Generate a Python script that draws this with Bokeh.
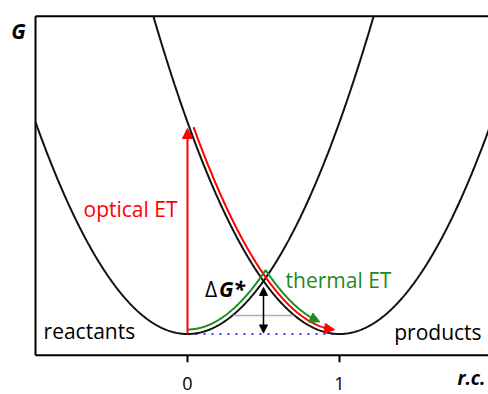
import numpy as np
from bokeh.plotting import figure
from bokeh.models import Arrow, NormalHead, Label, Range1d
from bokeh.core.properties import value
from bokeh.embed import file_html
from bokeh.resources import INLINE

# ---- data ----
reactant_center = 0.0
product_center = 1.0
curvature = 1.0                 # G = curvature * (x - center)^2
x_ticks = [0, 1]
tick_labels = ["0", "1"]
optical_top = 0.97              # top of optical ET arrow (G)
barrier_arrow = [0.005, 0.22]   # ΔG* arrow from/to (G) at x = 0.5
barrier_x = 0.5
gray_level = 0.087
gray_span = [0.30, 0.70]
red_span = [0.015, 0.93]        # along products curve
red_tip = 0.965
green_left = [0.005, 0.62]      # along reactants curve
green_right = [0.40, 0.815]     # along products curve
green_tip = 0.85
blue_span = [0.0, 1.0]
box_left, box_bottom, box_top = -1.0, -0.1, 1.5

FONT = "Open Sans"
W, H = 488, 394
SX = 152.0                      # px per x unit
SY = 339.0 / (box_top - box_bottom)
X0, X1 = -187.0 / SX, (W - 187.0) / SX
Y0, Y1 = -(H - 333.5) / SY, 333.5 / SY
BASE_FIX = 7.0 / SY             # text baseline correction


def G(x, c):
    return curvature * (x - c) ** 2


def offset(xs, gs, d):
    X = xs * SX
    Y = gs * SY
    tx = np.gradient(X)
    ty = np.gradient(Y)
    n = np.hypot(tx, ty)
    nx, ny = -ty / n, tx / n
    return (X + d * nx) / SX, (Y + d * ny) / SY


p = figure(width=W, height=H, x_range=Range1d(X0, X1), y_range=Range1d(Y0, Y1),
           output_backend="svg", toolbar_location=None,
           x_axis_location=None, y_axis_location=None, min_border=0)
p.outline_line_color = None
p.xgrid.visible = False
p.ygrid.visible = False
p.background_fill_color = "white"
p.border_fill_color = "white"

# frame box (left, top, bottom; open to the right)
p.line([box_left, box_left], [box_bottom, box_top], line_color="black", line_width=2)
p.line([box_left, X1 + 0.1], [box_top, box_top], line_color="black", line_width=2)
p.line([box_left, X1 + 0.1], [box_bottom, box_bottom], line_color="black", line_width=2)

# ticks and tick labels
tick_len = 7.0 / SY
p.segment(x0=x_ticks, y0=[box_bottom] * len(x_ticks), x1=x_ticks,
          y1=[box_bottom - tick_len] * len(x_ticks), line_color="black", line_width=2)
p.text(x=x_ticks, y=[-(389.5 - 333.5) / SY + BASE_FIX] * len(x_ticks), text=tick_labels,
       text_font=value(FONT), text_font_size="18px", text_align="center",
       text_baseline="alphabetic", text_color="black")

# blue dotted baseline
p.line(blue_span, [0, 0], line_color="#3a3aff", line_width=2, line_dash="2 6")

# parabolas, clipped at the top of the box
half = np.sqrt(box_top / curvature)
xr = np.linspace(box_left, reactant_center + half, 500)
p.line(xr, G(xr, reactant_center), line_color="#111111", line_width=2)
xp = np.linspace(product_center - half, X1 + 0.05, 500)
p.line(xp, G(xp, product_center), line_color="#111111", line_width=2)

# gray level
p.line(gray_span, [gray_level, gray_level], line_color="#b0b0b0", line_width=1.5)

# optical ET arrow
p.add_layout(Arrow(x_start=reactant_center, y_start=0, x_end=reactant_center, y_end=optical_top,
                   line_color="red", line_width=2,
                   end=NormalHead(size=10, fill_color="red", line_color="red")))

# red path along products curve
t = np.linspace(red_span[0], red_tip, 200)
rx, rg = offset(t, G(t, product_center), 4.0)
cut = t <= red_span[1]
p.line(rx[cut], rg[cut], line_color="red", line_width=2)
i0 = np.searchsorted(t, red_span[1])
p.add_layout(Arrow(x_start=rx[i0], y_start=rg[i0], x_end=rx[-1], y_end=rg[-1],
                   line_color="red", line_width=2,
                   end=NormalHead(size=10, fill_color="red", line_color="red")))

# green path: up the reactants curve, down the products curve
tl = np.linspace(green_left[0], green_left[1], 300)
lx, lg = offset(tl, G(tl, reactant_center), 4.5)
tr = np.linspace(green_right[0], green_tip, 300)
gx, gg = offset(tr, G(tr, product_center), 8.0)
rg_at = np.interp(lx, gx, gg)
k = int(np.argmax(lg >= rg_at))
j = int(np.searchsorted(gx, lx[k]))
end_cut = int(np.searchsorted(tr, green_right[1]))
green_x = np.concatenate([lx[:k], gx[j:end_cut]])
green_g = np.concatenate([lg[:k], gg[j:end_cut]])
p.line(green_x, green_g, line_color="#1f8a1f", line_width=2)
p.add_layout(Arrow(x_start=gx[end_cut - 1], y_start=gg[end_cut - 1], x_end=gx[-1], y_end=gg[-1],
                   line_color="#1f8a1f", line_width=2,
                   end=NormalHead(size=10, fill_color="#1f8a1f", line_color="#1f8a1f")))

# ΔG* double arrow
p.add_layout(Arrow(x_start=barrier_x, y_start=barrier_arrow[0], x_end=barrier_x, y_end=barrier_arrow[1],
                   line_color="black", line_width=1.5,
                   start=NormalHead(size=8, fill_color="black", line_color="black"),
                   end=NormalHead(size=8, fill_color="black", line_color="black")))


# texts
def lab(x, y, text, color="black", style="normal", size="21px", align="left"):
    p.add_layout(Label(x=x, y=y + BASE_FIX, text=text, text_color=color, text_font=FONT,
                       text_font_size=size, text_font_style=style,
                       text_align=align, text_baseline="alphabetic"))


lab(-0.684, 0.559, "optical ET", color="red")
lab(0.645, 0.224, "thermal ET", color="#1f8a1f")
lab(0.115, 0.177, "Δ", size="21px")
lab(0.208, 0.177, "G*", style="bold italic", size="21px")
lab(-0.947, -0.021, "reactants")
lab(1.36, -0.025, "products")
lab(-1.16, 1.395, "G", style="bold italic", size="21px")
lab(1.776, -0.243, "r.c.", style="bold italic", size="19px")

open("out.html", "w").write(file_html(p, INLINE))
